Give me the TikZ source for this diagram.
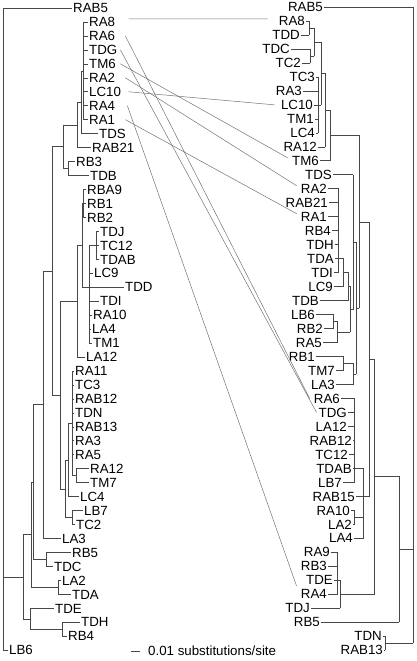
\documentclass[tikz,border=0pt]{standalone}
\usepackage{fontspec}
\setmainfont{Liberation Sans}
\begin{document}
\begin{tikzpicture}[x=1pt,y=-1pt,
  lab/.style={font=\fontsize{13.3}{16}\selectfont, inner sep=1.5pt, text height=9.5pt, text depth=0pt},
  ll/.style={lab,anchor=west},
  rl/.style={lab,anchor=east},
  br/.style={draw=black!72, line width=0.6pt, line cap=rect},
  link/.style={draw=black!55, line width=0.5pt}]
\useasboundingbox (0,0) rectangle (416,661);

% ---------- left tree: leaves ----------
\foreach \t/\x/\i/\p in {RAB5/71.5/0/3, RA8/87.5/1/83, RA6/87.5/2/83, TDG/87.5/3/83,
  TM6/87.5/4/83, RA2/87.5/5/83, LC10/87.5/6/83, RA4/87.5/7/83, RA1/87.5/8/83,
  TDS/97.5/9/81, RAB21/90.5/10/77, RB3/74.5/11/68, TDB/88.5/12/68,
  RBA9/85.5/13/83, RB1/85.5/14/83, RB2/85.5/15/83, TDJ/98.5/16/96, TC12/98.5/17/96,
  TDAB/98.5/18/96, LC9/92.5/19/89, TDD/123.5/20/89, TDI/98.5/21/89, RA10/91.5/22/89,
  LA4/90.5/23/89, TM1/91.5/24/89, LA12/84.5/25/77, RA11/73.5/26/72, TC3/73.5/27/72,
  RAB12/73.5/28/72, TDN/73.5/29/72, RAB13/73.5/30/72, RA3/73.5/31/72, RA5/73.5/32/72,
  RA12/88.5/33/76, TM7/88.5/34/76, LC4/78.5/35/68, LB7/82.5/36/72, TC2/74.5/37/72,
  LA3/60.5/38/43, RB5/70.5/39/46, TDC/52.5/40/46, LA2/60.5/41/58, TDA/70.5/42/58,
  TDE/53.5/43/30, TDH/79.5/44/62, RB4/66.5/45/62, LB6/7.5/46/3} {
  \node[ll] (l\t) at (\x,{8+13.96*\i}) {\t};
  \draw[br] (l\t.west) -- (l\t.west -| \p,0);
}
% left tree: verticals
\foreach \x/\a/\b in {83/22.0/119.7, 81/70.9/133.6, 77/102.2/147.6, 68/161.6/175.5,
  63/124.9/168.6, 83/189.5/217.4, 96/231.4/259.3, 89/245.3/343.0, 82/203.4/287.2,
  77/245.3/357.0, 72/371.0/475.7, 76/468.7/482.6, 68/423.3/496.6, 72/510.6/524.5,
  65/460/517.6, 60/301.2/488.8, 52/146.7/395, 43/270.9/538.5, 46/552.4/566.4,
  33/404.7/559.4, 58/580.4/594.3, 31/482/587.3, 62/622.2/636.2, 30/608.3/629.2,
  23/534.7/618.8, 3/8.0/650.2}
  \draw[br] (\x,\a) -- (\x,\b);
% left tree: horizontals
\foreach \y/\a/\b in {70.9/81/83, 102.2/77/81, 124.9/63/77, 168.6/63/68, 146.7/52/63,
  203.4/82/83, 245.3/89/96, 287.2/82/89, 245.3/77/82, 301.2/60/77, 475.7/72/76,
  423.3/68/72, 460/65/68, 517.6/65/72, 488.8/60/65, 395/52/60, 270.9/43/52,
  404.7/33/43, 559.4/33/46, 482/31/33, 587.3/31/58, 629.2/30/62, 534.7/23/31,
  618.8/23/30, 576.8/3/23}
  \draw[br] (\a,\y) -- (\b,\y);

% ---------- right tree: leaves ----------
\foreach \t/\x/\i/\p in {RAB5/324.5/0/413, RA8/306.5/1/309, TDD/301.5/2/309,
  TDC/291.5/3/310, TC2/302.5/4/310, TC3/316.5/5/318, RA3/303.5/6/318, LC10/314.5/7/318,
  TM1/315.5/8/318, LC4/316.5/9/318, RA12/318.5/10/325, TM6/320.5/11/330,
  TDS/333.5/12/353, RA2/328.5/13/338, RAB21/329.5/14/338, RA1/328.5/15/338,
  RB4/332.5/16/338, TDH/335.5/17/338, TDA/335.5/18/338, TDI/334.5/19/338,
  LC9/334.5/20/343, TDB/320.5/21/348, LB6/316.5/22/333, RB2/324.5/23/333,
  RA5/323.5/24/337, RB1/316.5/25/343, TM7/336.5/26/343, LA3/336.5/27/353,
  RA6/341.5/28/354.5, TDG/348.5/29/354.5, LA12/348.5/30/354.5, RAB12/353.5/31/354.5,
  TC12/349.5/32/354.5, TDAB/353.5/33/354.5, LB7/343.5/34/354.5, RAB15/356.5/35/363,
  RA10/351.5/36/354, LA2/353.5/37/354, LA4/354.5/38/363, RA9/331.5/39/337,
  RB3/328.5/40/337, TDE/334.5/41/337, RA4/328.5/42/337, TDJ/311.5/43/340,
  RB5/321.5/44/399, TDN/383.5/45/385, RAB13/384.5/46/385} {
  \node[rl] (r\t) at (\x,{7+13.98*\i}) {\t};
  \draw[br] (r\t.east) -- (r\t.east -| \p,0);
}
% right tree: verticals
\foreach \x/\a/\b in {309/21.0/35.0, 310/48.9/62.9, 314/28/55.9, 318/76.9/132.8,
  321/42/104.9, 325/73.4/146.8, 330/110.1/160.8, 338/188.7/272.6, 343/258.6/286.6,
  348/272.6/300.6, 333/314.6/328.5, 337/321.6/342.5, 350/286.6/332, 353/174.8/309.3,
  343/356.5/370.5, 353/363.5/384.5, 356/242/374, 359/135.5/308, 354.5/398.4/482.3,
  354/510.3/524.3, 363/468.3/538.2, 369/221.8/496.3, 337/552.2/594.2, 340/580.2/608.1,
  374/359/594.2, 399/476.6/622.1, 385/636.1/650.1, 413/7/643.1}
  \draw[br] (\x,\a) -- (\x,\b);
% right tree: horizontals
\foreach \y/\a/\b in {28/309/314, 55.9/310/314, 42/314/321, 104.9/318/321, 73.4/321/325,
  110.1/325/330, 135.5/330/359, 258.6/338/343, 272.6/343/348, 286.6/348/350,
  321.6/333/337, 332/337/350, 309.3/350/353, 363.5/343/353, 242/353/356, 374/353/356,
  308/356/359, 221.8/359/369, 468.3/354.5/363, 517.3/354/363, 496.3/363/369,
  580.2/337/340, 359/369/374, 594.2/340/374, 476.6/374/399, 549.4/399/413,
  643.1/385/413}
  \draw[br] (\a,\y) -- (\b,\y);

% ---------- connectors between the two trees ----------
\draw[link] ([xshift=11.9pt,yshift=3pt]lRA8.east) -- ([xshift=-9.6pt,yshift=2pt]rRA8.west);
\draw[link] ([xshift=8.6pt]lRA6.east) -- ([xshift=-2.6pt]rRA6.west);
\draw[link] ([xshift=1.4pt]lTDG.east) -- ([xshift=-0.5pt]rTDG.west);
\draw[link] ([xshift=2.9pt]lTM6.east) -- ([xshift=-2.9pt,yshift=3pt]rTM6.west);
\draw[link] ([xshift=8.6pt]lRA2.east) -- ([xshift=-2.6pt,yshift=3pt]rRA2.west);
\draw[link] ([xshift=5.7pt]lLC10.east) -- ([xshift=-4.7pt]rLC10.west);
\draw[link] ([xshift=10.6pt]lRA4.east) -- ([xshift=-2.6pt,yshift=8pt]rRA4.west);
\draw[link] ([xshift=8.6pt]lRA1.east) -- ([xshift=-2.6pt,yshift=3pt]rRA1.west);

% ---------- scale bar ----------
\node[ll] (scale) at (146.5,651) {0.01 substitutions/site};
\draw[br,line cap=butt] ([xshift=-6.5pt]scale.west) -- ([xshift=-15.5pt]scale.west);
\end{tikzpicture}
\end{document}
